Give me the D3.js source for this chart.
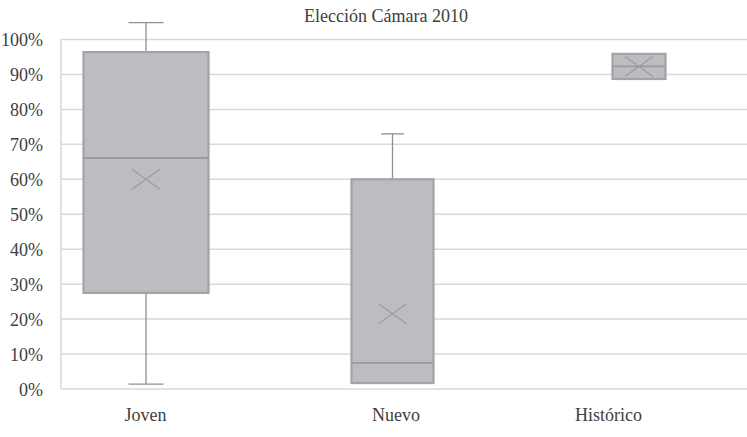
<!doctype html>
<html lang="es">
<head>
<meta charset="utf-8">
<title>Elección Cámara 2010</title>
<style>
  body { margin: 0; background: #fff; font-family: 'Liberation Serif', 'DejaVu Serif', serif; }
  .grid line { stroke: #d9d9d9; stroke-width: 1.5; }
  .axis text { fill: #404040; font-size: 18px; font-family: 'Liberation Serif', 'DejaVu Serif', serif; }
  .axis .domain, .axis .tick line { display: none; }
</style>
</head>
<body>
<svg width="747" height="437"></svg>
<script src="https://d3js.org/d3.v7.min.js"></script>
<script>
// data (fractions)
var categories = ["Joven", "Nuevo", "Histórico"];
var whiskerMin = [0.014, 0.017, 0.887];
var q1 = [0.275, 0.017, 0.887];
var median = [0.661, 0.075, 0.923];
var q3 = [0.964, 0.600, 0.959];
var whiskerMax = [1.048, 0.730, 0.959];
var mean = [0.600, 0.215, 0.923];
var yTicks = [0, 0.1, 0.2, 0.3, 0.4, 0.5, 0.6, 0.7, 0.8, 0.9, 1.0];

// layout
var svg = d3.select("svg"),
    margin = {top: 39.5, right: 0, bottom: 48, left: 61},
    width = +svg.attr("width") - margin.left - margin.right,
    height = +svg.attr("height") - margin.top - margin.bottom;
var boxWidths = [125, 82, 53];
var labelShift = [-1, 3, -31]; // category labels are not exactly under the boxes

var y = d3.scaleLinear().domain([0, 1]).range([margin.top + height, margin.top]);
var x = d3.scalePoint().domain(categories).range([146, 639]);

// grid
svg.append("g").attr("class", "grid")
  .selectAll("line")
  .data(yTicks)
  .enter().append("line")
    .attr("x1", margin.left).attr("x2", margin.left + width)
    .attr("y1", function(d) { return y(d); })
    .attr("y2", function(d) { return y(d); });

svg.append("line")
    .attr("x1", margin.left).attr("x2", margin.left)
    .attr("y1", y(0)).attr("y2", y(1))
    .attr("stroke", "#d9d9d9").attr("stroke-width", 1.5);

// y axis labels
svg.append("g")
    .attr("class", "axis")
    .attr("transform", "translate(" + (margin.left - 18) + ",0)")
    .call(d3.axisLeft(y).tickValues(yTicks).tickFormat(d3.format(".0%")).tickSize(0).tickPadding(0))
  .selectAll("text").attr("dy", "0.35em");

// x axis labels
svg.append("g")
    .attr("class", "axis")
    .attr("transform", "translate(0," + y(0) + ")")
    .call(d3.axisBottom(x).tickSize(0).tickPadding(19))
  .selectAll("text")
    .attr("dx", function(d, i) { return labelShift[i]; });

// title
svg.append("text")
    .attr("x", 386).attr("y", 22)
    .attr("text-anchor", "middle")
    .attr("fill", "#404040")
    .attr("font-size", "18px")
    .text("Elección Cámara 2010");

var rows = categories.map(function(c, i) {
  return {cat: c, lo: whiskerMin[i], q1: q1[i], med: median[i], q3: q3[i], hi: whiskerMax[i], mean: mean[i], w: boxWidths[i]};
});

var box = svg.append("g").selectAll("g")
  .data(rows)
  .enter().append("g")
    .attr("transform", function(d) { return "translate(" + x(d.cat) + ",0)"; });

// whiskers
box.filter(function(d) { return d.hi > d.q3; }).append("line")
    .attr("y1", function(d) { return y(d.q3); }).attr("y2", function(d) { return y(d.hi); })
    .attr("stroke", "#8f9094").attr("stroke-width", 1.3);
box.filter(function(d) { return d.hi > d.q3; }).append("line")
    .attr("x1", function(d) { return -d.w * 0.14; }).attr("x2", function(d) { return d.w * 0.14; })
    .attr("y1", function(d) { return y(d.hi); }).attr("y2", function(d) { return y(d.hi); })
    .attr("stroke", "#8f9094").attr("stroke-width", 1.3);
box.filter(function(d) { return d.lo < d.q1; }).append("line")
    .attr("y1", function(d) { return y(d.q1); }).attr("y2", function(d) { return y(d.lo); })
    .attr("stroke", "#8f9094").attr("stroke-width", 1.3);
box.filter(function(d) { return d.lo < d.q1; }).append("line")
    .attr("x1", function(d) { return -d.w * 0.14; }).attr("x2", function(d) { return d.w * 0.14; })
    .attr("y1", function(d) { return y(d.lo); }).attr("y2", function(d) { return y(d.lo); })
    .attr("stroke", "#8f9094").attr("stroke-width", 1.3);

// box
box.append("rect")
    .attr("x", function(d) { return -d.w / 2; })
    .attr("width", function(d) { return d.w; })
    .attr("y", function(d) { return y(d.q3); })
    .attr("height", function(d) { return y(d.q1) - y(d.q3); })
    .attr("fill", "#bcbdc1")
    .attr("stroke", "#a2a3a7")
    .attr("stroke-width", 2.2);

// median
box.append("line")
    .attr("x1", function(d) { return -d.w / 2; }).attr("x2", function(d) { return d.w / 2; })
    .attr("y1", function(d) { return y(d.med); }).attr("y2", function(d) { return y(d.med); })
    .attr("stroke", "#9a9b9f").attr("stroke-width", 1.8);

// mean marker (x)
box.append("path")
    .attr("d", function(d) {
      var cy = y(d.mean);
      return "M-14," + (cy - 10) + "L14," + (cy + 10) + "M-14," + (cy + 10) + "L14," + (cy - 10);
    })
    .attr("stroke", "#9a9b9f").attr("stroke-width", 1.2).attr("fill", "none");
</script>
</body>
</html>
